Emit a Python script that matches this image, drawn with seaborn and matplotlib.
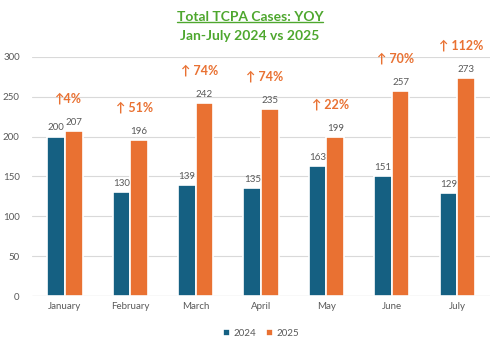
import matplotlib
matplotlib.use("Agg")
import matplotlib.pyplot as plt
import seaborn as sns
import pandas as pd
from matplotlib.lines import Line2D

months = ["January", "February", "March", "April", "May", "June", "July"]
cases_2024 = [200, 130, 139, 135, 163, 151, 129]
cases_2025 = [207, 196, 242, 235, 199, 257, 273]
pct_labels = ["\u21914%", "\u2191 51%", "\u2191 74%", "\u2191 74%", "\u2191 22%", "\u2191 70%", "\u2191 112%"]
years = ["2024", "2025"]

df = pd.DataFrame({
    "Month": months * 2,
    "Year": [years[0]] * len(months) + [years[1]] * len(months),
    "Cases": cases_2024 + cases_2025,
})

sns.set_theme(style="white")
plt.rcParams['font.family'] = ['Lato', 'DejaVu Sans']

blue = "#156082"
orange = "#E97132"
green = "#4EA72E"
gray = "#595959"

fig = plt.figure(figsize=(5.03, 3.45), dpi=100)
ax = fig.add_axes([0.064, 0.142, 0.91, 0.693])

sns.barplot(data=df, x="Month", y="Cases", hue="Year", order=months,
            hue_order=years, palette=[blue, orange], width=0.54, saturation=1,
            edgecolor="white", linewidth=1.2, ax=ax, legend=True)

ax.set_ylim(0, 300)
ax.set_yticks(range(0, 301, 50))
ax.yaxis.grid(True, color="#D9D9D9", linewidth=0.8)
ax.set_axisbelow(True)
for s in ax.spines.values():
    s.set_visible(False)
ax.axhline(0, color="#BFBFBF", linewidth=0.8, zorder=1)
ax.set_xlabel("")
ax.set_ylabel("")
ax.tick_params(axis="both", length=0, labelsize=7, labelcolor=gray, pad=4)
ax.tick_params(axis="y", pad=9)
ax.set_xlim(-0.5, len(months) - 0.5)

for cont in ax.containers:
    ax.bar_label(cont, fontsize=7, color=gray, padding=3)

# percentage increase labels above the 2025 bars
for i, (p, v) in enumerate(zip(pct_labels, cases_2025)):
    ax.text(i + 0.06, v + 41, p, ha="center", va="center",
            fontsize=9, fontweight="bold", color=orange, clip_on=False)

leg = ax.legend(loc="upper center", bbox_to_anchor=(0.5, -0.1), ncol=2,
                frameon=False, fontsize=7, handlelength=0.7, handleheight=0.7,
                columnspacing=1.0, handletextpad=0.4)
for t in leg.get_texts():
    t.set_color(gray)

t1 = fig.text(0.497, 0.95, "Total TCPA Cases: YOY", ha="center", va="center",
              fontsize=10, fontweight="bold", color=green)
fig.text(0.497, 0.895, "Jan-July 2024 vs 2025", ha="center", va="center",
         fontsize=10, fontweight="bold", color=green)

fig.canvas.draw()
bb = t1.get_window_extent(renderer=fig.canvas.get_renderer())
bbf = bb.transformed(fig.transFigure.inverted())
fig.add_artist(Line2D([bbf.x0, bbf.x1], [bbf.y0 + 0.004, bbf.y0 + 0.004],
                      transform=fig.transFigure, color=green, linewidth=1.0))

fig.savefig("out.png", dpi=100)
